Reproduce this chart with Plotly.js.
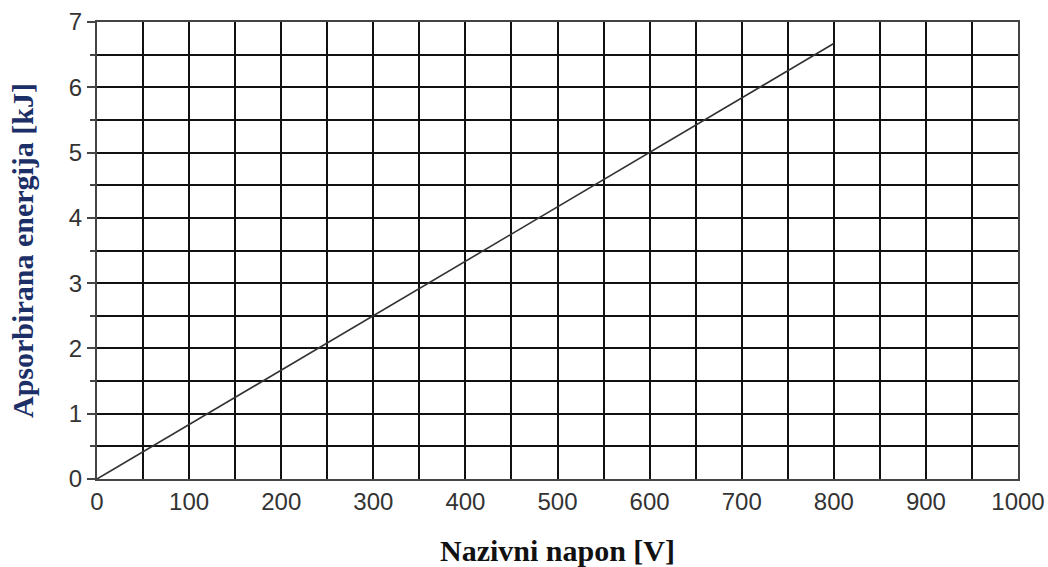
<!DOCTYPE html>
<html><head><meta charset="utf-8">
<script src="https://cdn.plot.ly/plotly-3.0.1.min.js"></script>
<style>html,body{margin:0;padding:0;background:#fff}#chart{width:1048px;height:567px}</style>
</head><body><div id="chart"></div>
<script>
const voltage = [0, 800];
const energy = [0, 6.67];
const xTickVals = [0,100,200,300,400,500,600,700,800,900,1000];
const yTickVals = [0,1,2,3,4,5,6,7];
const xTitle = "Nazivni napon [V]";
const yTitle = "Apsorbirana energija [kJ]";

Plotly.newPlot('chart', [{
  x: voltage, y: energy, type: 'scatter', mode: 'lines',
  line: {color: '#333', width: 1.6}, hoverinfo: 'skip', showlegend: false
}], {
  width: 1048, height: 567,
  margin: {l: 97, r: 30, t: 22, b: 88},
  paper_bgcolor: '#fff', plot_bgcolor: '#fff',
  xaxis: {
    range: [0, 1000], tickvals: xTickVals, ticktext: xTickVals.map(String),
    showgrid: true, gridcolor: '#111', gridwidth: 2,
    minor: {dtick: 50, showgrid: true, gridcolor: '#111', gridwidth: 2},
    showline: true, linecolor: '#444', linewidth: 2, mirror: true,
    ticks: '', zeroline: false,
    tickfont: {family: 'Liberation Sans, Arial', size: 24, color: '#333'},
    title: {text: xTitle, standoff: 26, font: {family: 'Liberation Serif, Times New Roman', size: 30, color: '#111', weight: 'bold'}}
  },
  yaxis: {
    range: [0, 7], tickvals: yTickVals, ticktext: yTickVals.map(String),
    showgrid: true, gridcolor: '#111', gridwidth: 2,
    minor: {dtick: 0.5, showgrid: true, gridcolor: '#111', gridwidth: 2, ticks: 'outside', ticklen: 5, tickcolor: '#444'},
    showline: true, linecolor: '#444', linewidth: 2, mirror: true,
    ticks: 'outside', ticklen: 8, tickcolor: '#444', tickwidth: 2, zeroline: false,
    tickfont: {family: 'Liberation Sans, Arial', size: 24, color: '#333'},
    title: {text: yTitle, standoff: 26, font: {family: 'Liberation Serif, Times New Roman', size: 30, color: '#1c2f66', weight: 'bold'}}
  }
}, {staticPlot: true});
</script></body></html>
